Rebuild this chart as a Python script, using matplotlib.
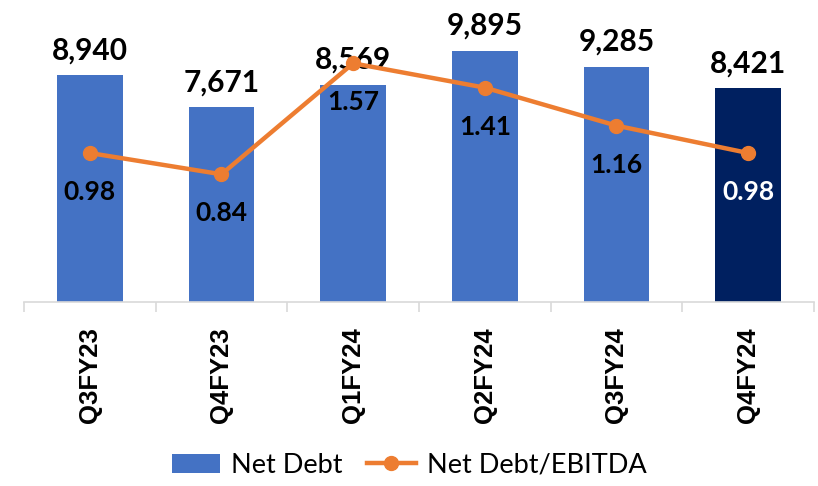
import matplotlib
matplotlib.use("Agg")
import matplotlib.pyplot as plt
from matplotlib.font_manager import FontProperties
from matplotlib.lines import Line2D
from matplotlib.patches import Patch

quarters = ["Q3FY23", "Q4FY23", "Q1FY24", "Q2FY24", "Q3FY24", "Q4FY24"]
net_debt = [8940, 7671, 8569, 9895, 9285, 8421]
debt_to_ebitda = [0.98, 0.84, 1.57, 1.41, 1.16, 0.98]

BLUE = "#4472C4"
NAVY = "#002060"
ORANGE = "#ED7D31"
NUM_FONT = ["Lato", "DejaVu Sans"]

fig = plt.figure(figsize=(8.18, 4.86), dpi=100)
ax = fig.add_axes([0.0293, 0.3786, 0.9658, 0.574])
x = list(range(len(quarters)))
colors = [BLUE] * (len(quarters) - 1) + [NAVY]
ax.bar(x, net_debt, width=0.5, color=colors, zorder=1)
ax.set_xlim(-0.5, len(quarters) - 0.5)
ax.set_ylim(0, 11000)

for xi, v in zip(x, net_debt):
    ax.annotate(f"{v:,}", (xi, v), xytext=(0, 8), textcoords="offset points",
                ha="center", va="bottom", fontsize=21.5, fontweight="bold",
                family=NUM_FONT, color="black")

for side in ("left", "right", "top"):
    ax.spines[side].set_visible(False)
ax.spines["bottom"].set_color("#D9D9D9")
ax.spines["bottom"].set_linewidth(1.2)
ax.set_yticks([])
ax.set_xticks(x)
tick_font = FontProperties(family=["Liberation Sans", "Arial", "DejaVu Sans"],
                           weight="bold", size=18.5)
ax.set_xticklabels(quarters, rotation=90, fontproperties=tick_font)
ax.tick_params(axis="x", which="major", length=0, pad=18)
ax.set_xticks([i - 0.5 for i in range(len(quarters) + 1)], minor=True)
ax.tick_params(axis="x", which="minor", length=7, color="#D9D9D9", width=1.2)

ax2 = ax.twinx()
ax2.set_ylim(0, 1.835)
ax2.plot(x, debt_to_ebitda, color=ORANGE, linewidth=3.2, marker="o",
         markersize=10, zorder=3)
ax2.set_yticks([])
for side in ("left", "right", "top", "bottom"):
    ax2.spines[side].set_visible(False)
for xi, v in zip(x, debt_to_ebitda):
    ax2.annotate(f"{v:.2f}", (xi, v), xytext=(0, -28), textcoords="offset points",
                 ha="center", va="center", fontsize=19, fontweight="bold",
                 family=NUM_FONT, color="white" if xi == len(quarters) - 1 else "black")

handles = [
    Patch(facecolor=BLUE, label="Net Debt"),
    Line2D([0], [0], color=ORANGE, linewidth=3.2, marker="o", markersize=10,
           label="Net Debt/EBITDA"),
]
fig.legend(handles=handles, loc="center", bbox_to_anchor=(0.5, 0.043), ncol=2,
           frameon=False, prop={"family": NUM_FONT, "size": 19.5},
           handlelength=1.8, handleheight=0.7, columnspacing=0.9, handletextpad=0.4)

fig.savefig("out.png", dpi=100)
